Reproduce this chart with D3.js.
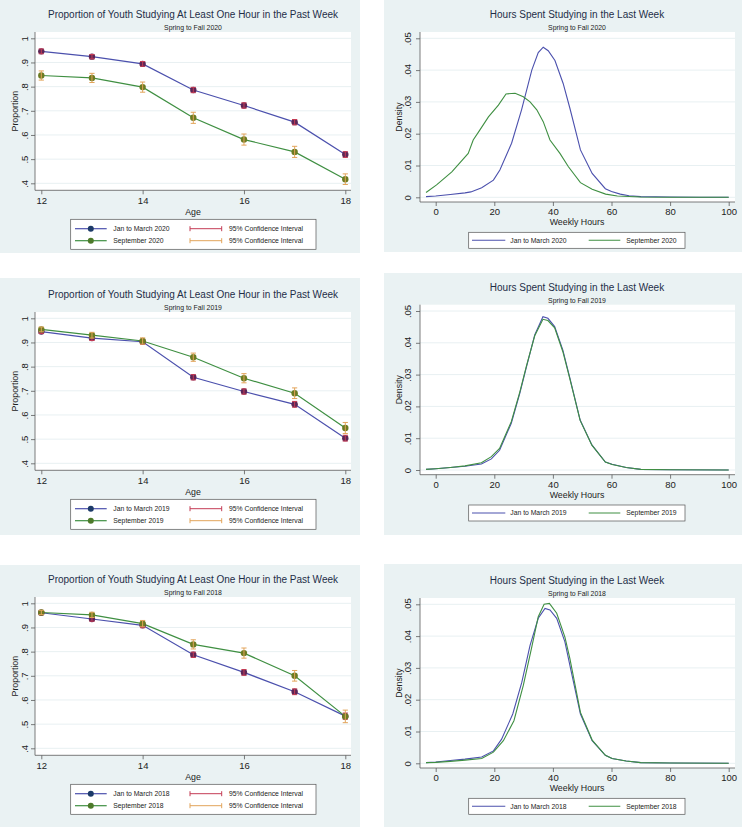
<!DOCTYPE html>
<html><head><meta charset="utf-8">
<script src="https://cdn.jsdelivr.net/npm/d3@7"></script>
<style>
body{margin:0;background:#fff}
text{font-family:"Liberation Sans",Arial,Helvetica,sans-serif}
</style>
</head><body>
<svg id="c" width="745" height="827"></svg>
<script>
// ---------- DATA ----------
const ages = [12,13,14,15,16,17,18];
const ageTicks = [12,14,16,18];
const propTicks = [0.4,0.5,0.6,0.7,0.8,0.9,1];
const propTickLabels = [".4",".5",".6",".7",".8",".9","1"];
const hourTicks = [0,20,40,60,80,100];
const densTicks = [0,0.01,0.02,0.03,0.04,0.05];
const densTickLabels = ["0",".01",".02",".03",".04",".05"];
const years = ["2020","2019","2018"];

const janProp2020 = [0.946,0.924,0.894,0.786,0.722,0.653,0.519];
const janCi2020   = [0.010,0.009,0.010,0.011,0.011,0.011,0.012];
const sepProp2020 = [0.846,0.836,0.798,0.671,0.581,0.530,0.417];
const sepCi2020   = [0.019,0.019,0.021,0.023,0.023,0.023,0.022];

const janProp2019 = [0.945,0.918,0.903,0.756,0.697,0.644,0.504];
const janCi2019   = [0.008,0.010,0.010,0.011,0.011,0.012,0.012];
const sepProp2019 = [0.954,0.930,0.906,0.839,0.752,0.690,0.546];
const sepCi2019   = [0.010,0.012,0.013,0.017,0.019,0.022,0.023];

const janProp2018 = [0.961,0.935,0.909,0.787,0.714,0.634,0.533];
const janCi2018   = [0.008,0.009,0.010,0.011,0.012,0.012,0.013];
const sepProp2018 = [0.962,0.952,0.916,0.830,0.794,0.700,0.532];
const sepCi2018   = [0.009,0.011,0.013,0.019,0.021,0.022,0.026];

const hoursJan2020 = [-3.3,0,5,10,12,15.7,19.7,21.9,25.9,29.3,32.8,35.0,36.7,38.4,40.7,43.5,45.8,49.4,53.4,57.9,60,63,66,70,80,90,100];
const densJan2020  = [.0002,.0004,.0009,.0014,.0017,.0030,.0054,.0086,.0170,.0275,.0400,.0455,.0472,.0461,.0430,.0358,.0280,.0149,.0075,.0027,.0018,.0010,.0005,.0002,.0001,0,0];
const hoursSep2020 = [-3.3,0.3,5.5,11.1,12.8,15.1,18,21.4,24,27.1,29.9,32.2,34.5,36.7,39,42.4,45.3,49.4,53.4,58,62,70,80,100];
const densSep2020  = [.0015,.0039,.0080,.0138,.0180,.0212,.0253,.0290,.0325,.0327,.0316,.0300,.0275,.0238,.0180,.0138,.0096,.0046,.0025,.0010,.0004,.0001,0,0];

const hoursJan2019 = [-3.3,0,5,10,15.6,19,21.8,25.8,28.7,31,33.8,36.6,38.3,40.6,43.4,45.7,49.3,53.3,57.9,60.2,65,70,80,100];
const densJan2019  = [.0002,.0004,.0008,.0012,.0019,.0035,.0062,.0147,.0241,.0325,.0425,.0482,.0477,.0451,.0377,.0293,.0157,.0079,.0025,.0018,.0008,.0002,.0001,0];
const hoursSep2019 = [-3.3,0,5,10,15.6,19,21.8,25.8,28.7,31,33.8,36.6,38.3,40.6,43.4,45.7,49.3,53.3,57.9,60.2,65,70,80,100];
const densSep2019  = [.0002,.0004,.0008,.0013,.0023,.0042,.0068,.0152,.0245,.0328,.0422,.0474,.0470,.0447,.0372,.0290,.0156,.0078,.0025,.0017,.0008,.0002,.0001,0];

const hoursJan2018 = [-3.3,0,5,10,15.7,19.7,22.5,26.3,29.4,32.2,35,37.3,39,41.3,44.1,45.8,49.4,53.4,57.9,60.2,65,70,80,100];
const densJan2018  = [.0002,.0004,.0009,.0013,.0020,.0039,.0076,.0155,.0255,.0371,.0456,.0487,.0482,.0456,.0382,.0308,.0155,.0071,.0025,.0015,.0007,.0002,.0001,0];
const hoursSep2018 = [-3.3,0,5,10,15.7,19.7,23.1,26.7,29.9,32.8,35,37,38.8,41.3,44.1,45.8,49.4,53.4,57.9,60.2,65,70,80,100];
const densSep2018  = [.0002,.0003,.0006,.0010,.0015,.0035,.0071,.0134,.0245,.0366,.0461,.0500,.0503,.0472,.0397,.0329,.0160,.0073,.0025,.0015,.0007,.0002,.0001,0];

// ---------- STYLE ----------
const BG = "#eaf2f3";
const GRID = "#e8f0f2";
const AXIS = "#5a5a5a";
const TXT = "#222";
const TITLE = "#1e2e48";
const JAN_LINE = "#4b50ad";
const SEP_LINE = "#3f8f42";
const JAN_MARK = "#5c2656";
const SEP_MARK = "#6c7b22";
const JAN_LEG_MARK = "#1c3a68";
const SEP_LEG_MARK = "#4d7a2a";
const JAN_CI = "#c43c55";
const SEP_CI = "#e2a45a";

const svg = d3.select("#c");

function styleAxis(g){
  g.select(".domain").remove();
  g.selectAll(".tick line").attr("stroke",AXIS).attr("stroke-width",0.8);
  g.selectAll(".tick text").attr("fill",TXT).style("font-size","9.5px");
}

function leftPanel(bgTop,bgBot,base,yr,jan,janCi,sep,sepCi){
  const g = svg.append("g");
  g.append("rect").attr("x",0).attr("y",bgTop).attr("width",360).attr("height",bgBot-bgTop).attr("fill",BG);
  const px0=35, px1=351, py0=base-6.3, py1=base+152;
  g.append("rect").attr("x",px0).attr("y",py0).attr("width",px1-px0).attr("height",py1-py0).attr("fill","#fff");
  const x = d3.scaleLinear().domain([12,18]).range([41.3,345.3]);
  const y = d3.scaleLinear().domain([0.4,1]).range([base+145,base]);
  // grid
  g.selectAll(".gr").data(propTicks).join("line")
    .attr("x1",px0).attr("x2",px1).attr("y1",d=>y(d)).attr("y2",d=>y(d))
    .attr("stroke",GRID).attr("stroke-width",1);
  // axes lines
  g.append("line").attr("x1",px0).attr("x2",px0).attr("y1",py0).attr("y2",py1).attr("stroke",AXIS).attr("stroke-width",0.8);
  g.append("line").attr("x1",px0).attr("x2",px1).attr("y1",py1).attr("y2",py1).attr("stroke",AXIS).attr("stroke-width",0.8);
  const ya = g.append("g").attr("transform",`translate(${px0},0)`)
    .call(d3.axisLeft(y).tickValues(propTicks).tickFormat((d,i)=>propTickLabels[i]).tickSize(4));
  styleAxis(ya);
  ya.selectAll(".tick text").attr("transform","rotate(-90)").attr("x",0).attr("y",-6.6).attr("dy",0).attr("text-anchor","middle");
  const xa = g.append("g").attr("transform",`translate(0,${py1})`)
    .call(d3.axisBottom(x).tickValues(ageTicks).tickFormat(d3.format("d")).tickSize(4));
  styleAxis(xa);
  xa.selectAll(".tick text").attr("y",13.4).attr("dy",0);
  // titles
  g.append("text").attr("x",193).attr("y",base-20).attr("text-anchor","middle").attr("fill",TITLE).style("font-size","10px")
    .text("Proportion of Youth Studying At Least One Hour in the Past Week");
  g.append("text").attr("x",193).attr("y",base-7.9).attr("text-anchor","middle").attr("fill",TXT).style("font-size","6.9px")
    .text("Spring to Fall "+yr);
  g.append("text").attr("x",193).attr("y",py1+24.2).attr("text-anchor","middle").attr("fill",TXT).style("font-size","8.8px").text("Age");
  g.append("text").attr("transform",`translate(18.2,${(py0+py1)/2}) rotate(-90)`).attr("text-anchor","middle").attr("fill",TXT).style("font-size","8.8px").text("Proportion");
  // series
  const line = d3.line().x((d,i)=>x(ages[i])).y(d=>y(d));
  [[jan,janCi,JAN_LINE,JAN_MARK,JAN_CI],[sep,sepCi,SEP_LINE,SEP_MARK,SEP_CI]].forEach(([vals,ci,lc,mc,cc])=>{
    g.append("path").datum(vals).attr("d",line).attr("fill","none").attr("stroke",lc).attr("stroke-width",1.2);
  });
  [[jan,janCi,JAN_LINE,JAN_MARK,JAN_CI],[sep,sepCi,SEP_LINE,SEP_MARK,SEP_CI]].forEach(([vals,ci,lc,mc,cc])=>{
    g.selectAll(null).data(vals).join("circle").attr("cx",(d,i)=>x(ages[i])).attr("cy",d=>y(d)).attr("r",3.2).attr("fill",mc);
    const cg = g.append("g").attr("stroke",cc).attr("stroke-width",1).attr("fill","none");
    vals.forEach((v,i)=>{
      const cx=x(ages[i]), t=y(v+ci[i]), b=y(v-ci[i]);
      cg.append("line").attr("x1",cx).attr("x2",cx).attr("y1",t).attr("y2",b);
      cg.append("line").attr("x1",cx-2.6).attr("x2",cx+2.6).attr("y1",t).attr("y2",t);
      cg.append("line").attr("x1",cx-2.6).attr("x2",cx+2.6).attr("y1",b).attr("y2",b);
    });
  });
  // legend
  const lt=base+181, lb=base+211, r1=base+190.4, r2=base+202.4;
  g.append("rect").attr("x",70.7).attr("y",lt).attr("width",316-70.7).attr("height",lb-lt).attr("fill","#fff").attr("stroke","#555").attr("stroke-width",0.7);
  [[r1,JAN_LINE,JAN_LEG_MARK,JAN_CI,"Jan to March "+yr],[r2,SEP_LINE,SEP_LEG_MARK,SEP_CI,"September "+yr]].forEach(([ry,lc,mc,cc,lab])=>{
    g.append("line").attr("x1",75).attr("x2",106.7).attr("y1",ry).attr("y2",ry).attr("stroke",lc).attr("stroke-width",1.2);
    g.append("circle").attr("cx",90.8).attr("cy",ry).attr("r",3).attr("fill",mc);
    g.append("text").attr("x",113.3).attr("y",ry+2.4).attr("fill",TXT).style("font-size","6.8px").text(lab);
    g.append("line").attr("x1",190).attr("x2",221.7).attr("y1",ry).attr("y2",ry).attr("stroke",cc).attr("stroke-width",1);
    g.append("line").attr("x1",190).attr("x2",190).attr("y1",ry-2.5).attr("y2",ry+2.5).attr("stroke",cc).attr("stroke-width",1);
    g.append("line").attr("x1",221.7).attr("x2",221.7).attr("y1",ry-2.5).attr("y2",ry+2.5).attr("stroke",cc).attr("stroke-width",1);
    g.append("text").attr("x",229).attr("y",ry+2.4).attr("fill",TXT).style("font-size","6.8px").text("95% Confidence Interval");
  });
}

function rightPanel(bgTop,bgBot,base,yr,hJan,dJan,hSep,dSep){
  const g = svg.append("g");
  g.append("rect").attr("x",384).attr("y",bgTop).attr("width",742-384).attr("height",bgBot-bgTop).attr("fill",BG);
  const px0=420, px1=735, py0=base-6.3, py1=base+163.7;
  g.append("rect").attr("x",px0).attr("y",py0).attr("width",px1-px0).attr("height",py1-py0).attr("fill","#fff");
  const x = d3.scaleLinear().domain([0,100]).range([435.7,728.7]);
  const y = d3.scaleLinear().domain([0,0.05]).range([base+159,base]);
  g.selectAll(".gr").data(densTicks).join("line")
    .attr("x1",px0).attr("x2",px1).attr("y1",d=>y(d)).attr("y2",d=>y(d))
    .attr("stroke",GRID).attr("stroke-width",1);
  g.append("line").attr("x1",px0).attr("x2",px0).attr("y1",py0).attr("y2",py1).attr("stroke",AXIS).attr("stroke-width",0.8);
  g.append("line").attr("x1",px0).attr("x2",px1).attr("y1",py1).attr("y2",py1).attr("stroke",AXIS).attr("stroke-width",0.8);
  const ya = g.append("g").attr("transform",`translate(${px0},0)`)
    .call(d3.axisLeft(y).tickValues(densTicks).tickFormat((d,i)=>densTickLabels[i]).tickSize(4));
  styleAxis(ya);
  ya.selectAll(".tick text").attr("transform","rotate(-90)").attr("x",0).attr("y",-9.3).attr("dy",0).attr("text-anchor","middle");
  const xa = g.append("g").attr("transform",`translate(0,${py1})`)
    .call(d3.axisBottom(x).tickValues(hourTicks).tickFormat(d3.format("d")).tickSize(4));
  styleAxis(xa);
  xa.selectAll(".tick text").attr("y",13.4).attr("dy",0);
  g.append("text").attr("x",577).attr("y",base-20).attr("text-anchor","middle").attr("fill",TITLE).style("font-size","10px")
    .text("Hours Spent Studying in the Last Week");
  g.append("text").attr("x",577).attr("y",base-7.9).attr("text-anchor","middle").attr("fill",TXT).style("font-size","6.9px")
    .text("Spring to Fall "+yr);
  g.append("text").attr("x",577).attr("y",py1+23.2).attr("text-anchor","middle").attr("fill",TXT).style("font-size","8.8px").text("Weekly Hours");
  g.append("text").attr("transform",`translate(402,${(py0+py1)/2}) rotate(-90)`).attr("text-anchor","middle").attr("fill",TXT).style("font-size","8.8px").text("Density");
  const line = (hs)=>d3.line().x((d,i)=>x(hs[i])).y(d=>y(d));
  g.append("path").datum(dJan).attr("d",line(hJan)).attr("fill","none").attr("stroke",JAN_LINE).attr("stroke-width",1.1);
  g.append("path").datum(dSep).attr("d",line(hSep)).attr("fill","none").attr("stroke",SEP_LINE).attr("stroke-width",1.1);
  const lt=base+194, lb=base+210, ry=base+202;
  g.append("rect").attr("x",468.7).attr("y",lt).attr("width",685-468.7).attr("height",lb-lt).attr("fill","#fff").attr("stroke","#555").attr("stroke-width",0.7);
  g.append("line").attr("x1",472).attr("x2",505.3).attr("y1",ry).attr("y2",ry).attr("stroke",JAN_LINE).attr("stroke-width",1.1);
  g.append("text").attr("x",510.3).attr("y",ry+2.4).attr("fill",TXT).style("font-size","6.8px").text("Jan to March "+yr);
  g.append("line").attr("x1",588.7).attr("x2",620.3).attr("y1",ry).attr("y2",ry).attr("stroke",SEP_LINE).attr("stroke-width",1.1);
  g.append("text").attr("x",626.3).attr("y",ry+2.4).attr("fill",TXT).style("font-size","6.8px").text("September "+yr);
}

leftPanel(0,253,38.3,years[0],janProp2020,janCi2020,sepProp2020,sepCi2020);
leftPanel(278,535,318.3,years[1],janProp2019,janCi2019,sepProp2019,sepCi2019);
leftPanel(565,827,603.3,years[2],janProp2018,janCi2018,sepProp2018,sepCi2018);
rightPanel(0,252,38.3,years[0],hoursJan2020,densJan2020,hoursSep2020,densSep2020);
rightPanel(273,535,311,years[1],hoursJan2019,densJan2019,hoursSep2019,densSep2019);
rightPanel(564,827,604.3,years[2],hoursJan2018,densJan2018,hoursSep2018,densSep2018);
</script>
</body></html>
